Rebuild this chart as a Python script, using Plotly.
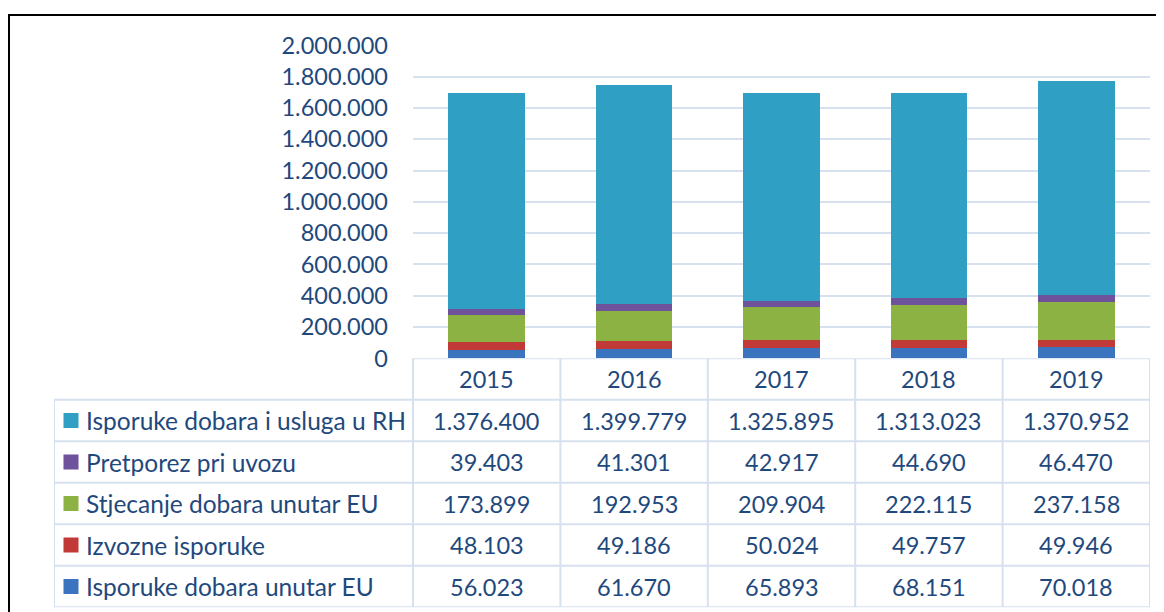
import plotly.graph_objects as go

years = ["2015", "2016", "2017", "2018", "2019"]
# stacking order bottom -> top
series_names = [
    "Isporuke dobara unutar EU",
    "Izvozne isporuke",
    "Stjecanje dobara unutar EU",
    "Pretporez pri uvozu",
    "Isporuke dobara i usluga u RH",
]
eu_deliveries = [56023, 61670, 65893, 68151, 70018]
export_deliveries = [48103, 49186, 50024, 49757, 49946]
eu_acquisitions = [173899, 192953, 209904, 222115, 237158]
import_tax = [39403, 41301, 42917, 44690, 46470]
domestic_deliveries = [1376400, 1399779, 1325895, 1313023, 1370952]
series_values = [eu_deliveries, export_deliveries, eu_acquisitions, import_tax, domestic_deliveries]
series_colors = ["#3A73BE", "#C13A38", "#8DB244", "#6F529C", "#2FA0C4"]
y_ticks = [0, 200000, 400000, 600000, 800000, 1000000, 1200000, 1400000, 1600000, 1800000, 2000000]

OFF = 8  # page body margin
W, H = 1164 - OFF, 612 - OFF
TXT = "#1F497D"
GRID = "#D6E0EF"
FONT = "Lato"
FS_NUM = 23.5
FS_LAB = 24.5

# layout geometry (pixels in the reference picture)
plot_left, plot_right = 413, 1150
table_left = 54
y_zero_px, y_top_px = 358.3, 45.3
table_bottom_px = 607.3
n_cols = len(years)
col_w = (plot_right - plot_left) / n_cols
label_cols = (plot_left - table_left) / col_w
n_rows = len(series_names) + 1

def fx(px):
    return (px - OFF) / W

def fy(py):
    return 1 - (py - OFF) / H

fig = go.Figure()

for name, vals, col in zip(series_names, series_values, series_colors):
    fig.add_trace(go.Bar(
        x=years, y=vals, name=name, marker=dict(color=col, line=dict(width=0)),
        width=0.52, xaxis="x", yaxis="y", showlegend=False,
    ))

x_left = -0.5 - label_cols
x_right = n_cols - 0.5

shapes = []
line_style = dict(color=GRID, width=2)
shapes.append(dict(type="line", xref="x2", yref="y2", x0=-0.5, x1=x_right, y0=n_rows, y1=n_rows, line=line_style))
for r in range(n_rows):
    shapes.append(dict(type="line", xref="x2", yref="y2", x0=x_left, x1=x_right, y0=r, y1=r, line=line_style))
shapes.append(dict(type="line", xref="x2", yref="y2", x0=x_left, x1=x_left, y0=0, y1=n_rows - 1, line=line_style))
for c in range(n_cols + 1):
    xv = -0.5 + c
    shapes.append(dict(type="line", xref="x2", yref="y2", x0=xv, x1=xv, y0=0, y1=n_rows, line=line_style))
shapes.append(dict(type="rect", xref="paper", yref="paper", x0=fx(9), x1=1.05, y0=-0.05, y1=fy(15),
                   line=dict(color="black", width=2), fillcolor="rgba(0,0,0,0)", layer="above"))

annotations = []
for i, yr in enumerate(years):
    annotations.append(dict(xref="x2", yref="y2", x=i, y=n_rows - 0.5, text=yr, showarrow=False,
                            font=dict(family=FONT, size=FS_NUM, color=TXT), xanchor="center", yanchor="middle"))

def fmt(v):
    return f"{v:,}".replace(",", ".")

key_x = x_left + (71 - table_left) / col_w
label_x = x_left + (84 - table_left) / col_w
key_xs, key_ys, key_cols = [], [], []
for k, idx in enumerate(reversed(range(len(series_names)))):
    yc = n_rows - 1.5 - k
    annotations.append(dict(xref="x2", yref="y2", x=label_x, y=yc, text=series_names[idx], showarrow=False,
                            font=dict(family=FONT, size=FS_LAB, color=TXT), xanchor="left", yanchor="middle"))
    for i, v in enumerate(series_values[idx]):
        annotations.append(dict(xref="x2", yref="y2", x=i, y=yc, text=fmt(v), showarrow=False,
                                font=dict(family=FONT, size=FS_NUM, color=TXT), xanchor="center", yanchor="middle"))
    key_xs.append(key_x)
    key_ys.append(yc)
    key_cols.append(series_colors[idx])

fig.add_trace(go.Scatter(x=key_xs, y=key_ys, mode="markers", xaxis="x2", yaxis="y2",
                         marker=dict(symbol="square", size=15, color=key_cols, line=dict(width=0)),
                         showlegend=False, hoverinfo="skip"))

fig.update_layout(
    template="none",
    width=W, height=H,
    margin=dict(l=0, r=0, t=0, b=0, pad=0),
    paper_bgcolor="white", plot_bgcolor="rgba(0,0,0,0)",
    barmode="stack",
    separators=",.",
    showlegend=False,
    font=dict(family=FONT, size=FS_NUM, color=TXT),
    xaxis=dict(domain=[fx(plot_left), fx(plot_right)], range=[-0.5, n_cols - 0.5], type="category",
               showticklabels=False, showgrid=False, zeroline=False, showline=False, ticks="",
               automargin=False, fixedrange=True),
    yaxis=dict(domain=[fy(y_zero_px), fy(y_top_px)], range=[0, 2000000], tickvals=y_ticks, tickformat=",d",
               showgrid=True, gridcolor=GRID, gridwidth=1.5, zeroline=False, showline=False, ticks="",
               tickfont=dict(family=FONT, size=FS_NUM, color=TXT), ticklabelstandoff=24,
               automargin=False, fixedrange=True),
    xaxis2=dict(domain=[fx(table_left), fx(plot_right)], range=[x_left, x_right], anchor="y2",
                visible=False, automargin=False, fixedrange=True),
    yaxis2=dict(domain=[fy(table_bottom_px), fy(y_zero_px)], range=[0, n_rows], anchor="x2",
                visible=False, automargin=False, fixedrange=True),
    shapes=shapes,
    annotations=annotations,
)

fig.write_html("out.html")
